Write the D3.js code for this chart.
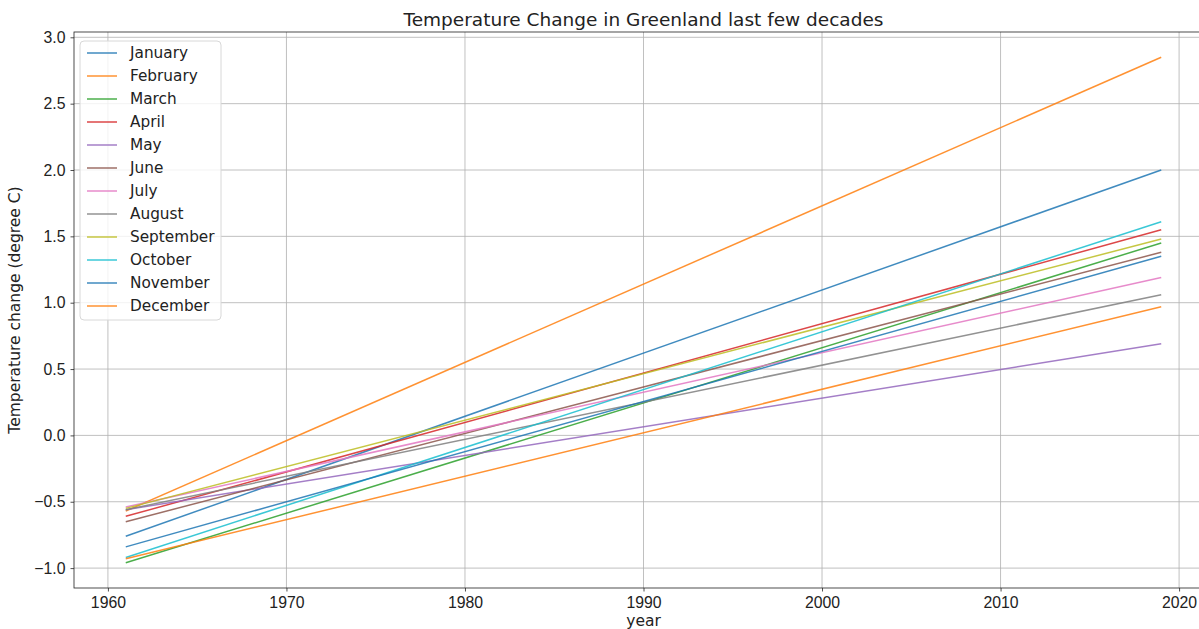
<!DOCTYPE html>
<meta charset="utf-8">
<title>Temperature Change in Greenland last few decades</title>
<style>
    body { margin: 0; background: #fff; }
    svg { font-family: "DejaVu Sans", sans-serif; }
    .tick text { font-size: 15.8px; fill: #222; }
</style>
<script src="https://d3js.org/d3.v7.js"></script>

<svg id="chart" width="1199" height="629"></svg>

<script>
    // data: trend lines from 1961 to 2019
    const years = [1961, 2019];
    const months = ["January", "February", "March", "April", "May", "June",
        "July", "August", "September", "October", "November", "December"];
    const startValues = [-0.76, -0.57, -0.96, -0.61, -0.56, -0.65, -0.54, -0.56, -0.55, -0.92, -0.84, -0.93];
    const endValues = [2.00, 2.85, 1.45, 1.55, 0.69, 1.38, 1.19, 1.06, 1.48, 1.61, 1.35, 0.97];
    const xTicks = [1960, 1970, 1980, 1990, 2000, 2010, 2020];
    const yTicks = [-1.0, -0.5, 0.0, 0.5, 1.0, 1.5, 2.0, 2.5, 3.0];

    const colors = ["#1f77b4", "#ff7f0e", "#2ca02c", "#d62728", "#9467bd",
        "#8c564b", "#e377c2", "#7f7f7f", "#bcbd22", "#17becf"];

    const svg = d3.select("#chart");
    const margin = {left: 74, top: 32, right: 1213, bottom: 588};

    const x = d3.scaleLinear().domain([1958.1, 2021.9]).range([margin.left, margin.right]);
    const y = d3.scaleLinear().domain([-1.15, 3.04]).range([margin.bottom, margin.top]);

    // grid
    svg.append("g").selectAll("line").data(xTicks).join("line")
        .attr("x1", d => x(d)).attr("x2", d => x(d))
        .attr("y1", margin.top).attr("y2", margin.bottom)
        .attr("stroke", "#b0b0b0").attr("stroke-width", 0.8);
    svg.append("g").selectAll("line").data(yTicks).join("line")
        .attr("x1", margin.left).attr("x2", margin.right)
        .attr("y1", d => y(d)).attr("y2", d => y(d))
        .attr("stroke", "#b0b0b0").attr("stroke-width", 0.8);

    // lines
    const line = d3.line().x(d => x(d[0])).y(d => y(d[1]));
    months.forEach(function(m, i) {
        svg.append("path")
            .datum([[years[0], startValues[i]], [years[1], endValues[i]]])
            .attr("d", line)
            .attr("fill", "none")
            .attr("stroke", colors[i % 10])
            .attr("stroke-opacity", 0.85)
            .attr("stroke-width", 1.5);
    });

    // axes
    const fmt = d => d3.format(".1f")(d).replace("-", "\u2212");
    svg.append("g")
        .attr("transform", `translate(0,${margin.bottom})`)
        .call(d3.axisBottom(x).tickValues(xTicks).tickSize(3.5).tickPadding(5).tickFormat(d3.format("d")))
        .call(g => g.select(".domain").remove());
    svg.append("g")
        .attr("transform", `translate(${margin.left},0)`)
        .call(d3.axisLeft(y).tickValues(yTicks).tickSize(3.5).tickPadding(5).tickFormat(fmt))
        .call(g => g.select(".domain").remove());
    svg.selectAll(".tick line").attr("stroke", "#222").attr("stroke-width", 0.8);

    // spines
    svg.append("rect")
        .attr("x", margin.left).attr("y", margin.top)
        .attr("width", margin.right - margin.left).attr("height", margin.bottom - margin.top)
        .attr("fill", "none").attr("stroke", "#222").attr("stroke-width", 0.8);

    // labels
    svg.append("text")
        .attr("x", (margin.left + margin.right) / 2).attr("y", 26)
        .attr("text-anchor", "middle").style("font-size", "18.5px").style("fill", "#222")
        .text("Temperature Change in Greenland last few decades");
    svg.append("text")
        .attr("x", (margin.left + margin.right) / 2).attr("y", 626)
        .attr("text-anchor", "middle").style("font-size", "15.5px").style("fill", "#222")
        .text("year");
    svg.append("text")
        .attr("transform", `translate(20,${(margin.top + margin.bottom) / 2}) rotate(-90)`)
        .attr("text-anchor", "middle").style("font-size", "15.5px").style("fill", "#222")
        .text("Temperature change (degree C)");

    // legend
    const legend = svg.append("g").attr("transform", "translate(80,41)");
    legend.append("rect")
        .attr("width", 141).attr("height", 279).attr("rx", 4)
        .attr("fill", "#fff").attr("fill-opacity", 0.8)
        .attr("stroke", "#d8d8d8").attr("stroke-width", 1);
    months.forEach(function(m, i) {
        const gy = 12 + i * 23;
        legend.append("line")
            .attr("x1", 7).attr("x2", 37).attr("y1", gy).attr("y2", gy)
            .attr("stroke", colors[i % 10]).attr("stroke-opacity", 0.85).attr("stroke-width", 1.5);
        legend.append("text")
            .attr("x", 50).attr("y", gy + 5)
            .style("font-size", "15.3px").style("fill", "#222")
            .text(m);
    });
</script>
